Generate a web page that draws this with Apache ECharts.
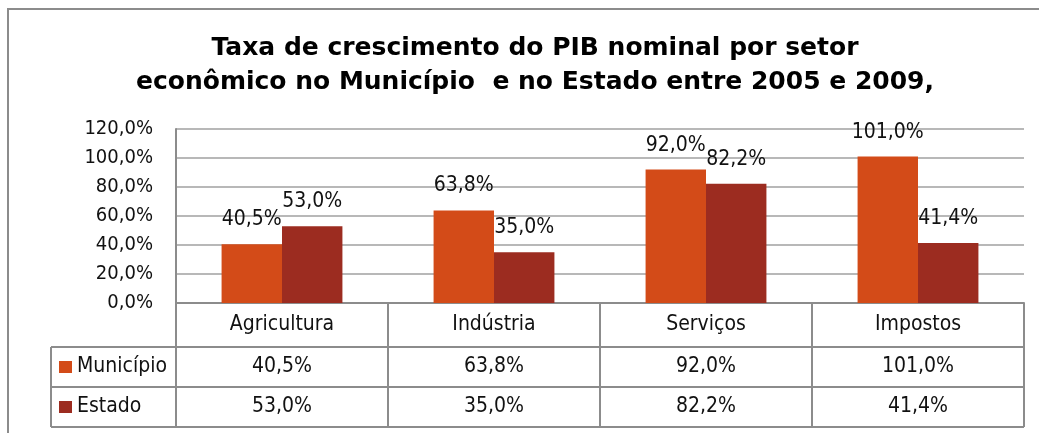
<!DOCTYPE html>
<html lang="pt">
<head>
    <meta charset="UTF-8">
    <title>PIB nominal por setor</title>
    <script type="text/javascript" src="https://cdn.jsdelivr.net/npm/echarts@6/dist/echarts.min.js"></script>
    <style>
        html, body { margin: 0; padding: 0; background: #fff; }
    </style>
</head>
<body>
<div id="chart" style="width: 1039px;height: 433px"></div>
</body>
</html>
<script type="text/javascript">
    // dados do gráfico
    var setores = ['Agricultura', 'Indústria', 'Serviços', 'Impostos'];
    var municipio = [40.5, 63.8, 92.0, 101.0];
    var estado = [53.0, 35.0, 82.2, 41.4];
    var nomes = ['Município', 'Estado'];
    var cores = ['#D34B18', '#9C2C20'];

    var fonte = '"DejaVu Sans Condensed", "DejaVu Sans", sans-serif';
    var linha = '#8c8c8c';

    function pct(v) {
        return v.toFixed(1).replace('.', ',') + '%';
    }

    var myChart = echarts.init(document.getElementById('chart'));
    var option = {
        animation: false,
        title: {
            text: 'Taxa de crescimento do PIB nominal por setor\neconômico no Município  e no Estado entre 2005 e 2009,',
            left: 530,
            textAlign: 'center',
            top: 26,
            textStyle: {
                fontFamily: '"DejaVu Sans", sans-serif',
                fontWeight: 'bold',
                fontSize: 25,
                lineHeight: 34,
                color: '#000'
            }
        },
        grid: {left: 176, top: 129, right: 15, bottom: 130},
        xAxis: {
            type: 'category',
            data: setores,
            axisLine: {lineStyle: {color: linha, width: 2}},
            axisTick: {show: true, length: 124, lineStyle: {color: linha, width: 2}},
            axisLabel: {
                margin: 10,
                fontFamily: fonte,
                fontSize: 21,
                lineHeight: 24,
                color: '#111'
            }
        },
        yAxis: {
            type: 'value',
            min: 0,
            max: 120,
            interval: 20,
            axisLine: {show: true, lineStyle: {color: linha, width: 2}},
            axisTick: {show: false},
            splitLine: {lineStyle: {color: '#a0a0a0', width: 1.5}},
            axisLabel: {
                margin: 23,
                formatter: pct,
                fontFamily: fonte,
                fontSize: 20,
                color: '#111'
            }
        },
        series: [
            {
                name: nomes[0],
                type: 'bar',
                data: municipio,
                barGap: '0%',
                barCategoryGap: '43%',
                itemStyle: {color: cores[0]},
                label: {
                    show: true, position: 'top', distance: 14,
                    formatter: function (p) { return pct(p.value); },
                    fontFamily: fonte, fontSize: 21, color: '#111'
                }
            },
            {
                name: nomes[1],
                type: 'bar',
                data: estado,
                itemStyle: {color: cores[1]},
                label: {
                    show: true, position: 'top', distance: 14,
                    formatter: function (p) { return pct(p.value); },
                    fontFamily: fonte, fontSize: 21, color: '#111'
                }
            }
        ]
    };
    myChart.setOption(option);

    // tabela de dados abaixo do eixo
    function desenhaTabela() {
        var x0 = myChart.convertToPixel({gridIndex: 0}, [0, 0]);
        var xEnd = myChart.convertToPixel({xAxisIndex: 0}, setores.length - 1);
        var passo = myChart.convertToPixel({xAxisIndex: 0}, 1) - myChart.convertToPixel({xAxisIndex: 0}, 0);
        var dir = xEnd + passo / 2;
        var base = x0[1];
        var linhas = [base + 44, base + 84, base + 124];
        var colLeg = 51;
        var els = [];

        // borda externa
        els.push({type: 'rect', shape: {x: 8, y: 9, width: 1200, height: 600},
            style: {fill: null, stroke: '#8c8c8c', lineWidth: 2}, silent: true});

        linhas.forEach(function (y) {
            els.push({type: 'line', shape: {x1: colLeg, y1: y, x2: dir, y2: y},
                style: {stroke: linha, lineWidth: 2}});
        });
        els.push({type: 'line', shape: {x1: colLeg, y1: linhas[0], x2: colLeg, y2: linhas[2]},
            style: {stroke: linha, lineWidth: 2}});

        var series = [municipio, estado];
        series.forEach(function (vals, r) {
            var yc = (linhas[r] + linhas[r + 1]) / 2;
            els.push({type: 'rect', shape: {x: 59, y: yc - 6, width: 13, height: 12},
                style: {fill: cores[r]}});
            els.push({type: 'text', x: 77, y: yc, style: {
                text: nomes[r], fontFamily: fonte, fontSize: 21,
                fill: '#111', align: 'left', verticalAlign: 'middle'}});
            vals.forEach(function (v, i) {
                var xc = myChart.convertToPixel({xAxisIndex: 0}, i);
                els.push({type: 'text', x: xc, y: yc, style: {
                    text: pct(v), fontFamily: fonte, fontSize: 21,
                    fill: '#111', align: 'center', verticalAlign: 'middle'}});
            });
        });
        myChart.setOption({graphic: {elements: els}});
    }
    desenhaTabela();
</script>
